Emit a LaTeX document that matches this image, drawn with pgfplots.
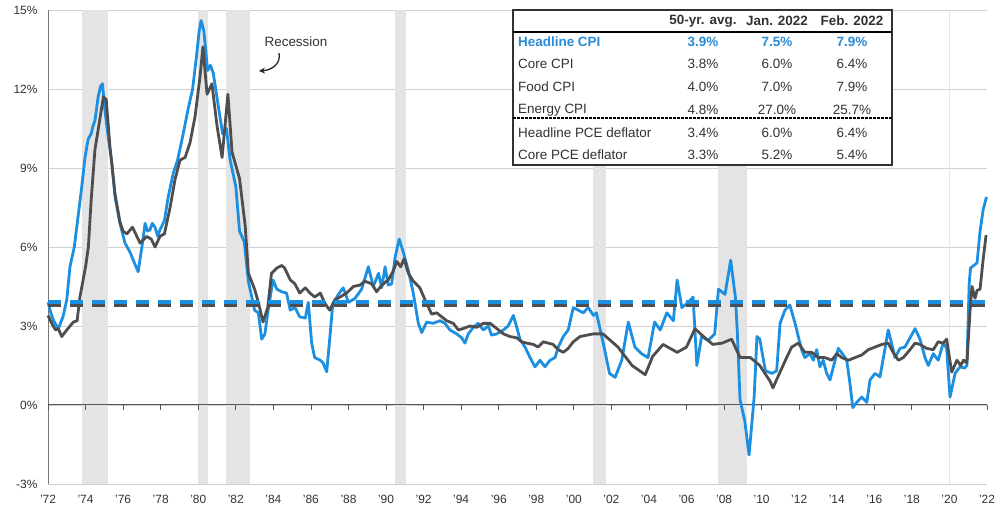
\documentclass[border=0pt]{standalone}
\usepackage{fontspec}
\setmainfont{Liberation Sans}
\usepackage{pgfplots}
\pgfplotsset{compat=1.18}
\usetikzlibrary{arrows.meta}
\definecolor{cpiblue}{RGB}{28,143,224}
\definecolor{coregray}{RGB}{78,78,80}
\definecolor{recess}{RGB}{228,228,228}
\definecolor{gridgray}{RGB}{208,208,208}
\definecolor{axisgray}{RGB}{120,120,120}
\definecolor{zerogray}{RGB}{85,85,85}
\definecolor{txtgray}{RGB}{50,50,50}
\definecolor{hdrblue}{RGB}{38,140,215}
\begin{document}
\begin{tikzpicture}
\begin{axis}[
  scale only axis, width=939bp, height=474bp,
  xmin=0, xmax=50, ymin=-3, ymax=15,
  axis line style={draw=none},
  tick style={draw=none},
  major tick length=0.1pt,
  ytick={-3,0,3,6,9,12,15},
  yticklabels={-3\%,0\%,3\%,6\%,9\%,12\%,15\%},
  xtick={0,2,...,50},
  xticklabels={'72,'74,'76,'78,'80,'82,'84,'86,'88,'90,'92,'94,'96,'98,'00,'02,'04,'06,'08,'10,'12,'14,'16,'18,'20,'22},
  ymajorgrids, grid style={draw=gridgray, line width=0.8bp},
  tick label style={font=\fontsize{12}{14}\selectfont, text=txtgray},
  yticklabel style={xshift=-7bp},
  xticklabel style={yshift=-8bp},
  clip=false,
]
% recessions
\fill[recess] (axis cs:1.83,-3) rectangle (axis cs:3.17,15);
\fill[recess] (axis cs:8.0,-3) rectangle (axis cs:8.5,15);
\fill[recess] (axis cs:9.5,-3) rectangle (axis cs:10.75,15);
\fill[recess] (axis cs:18.5,-3) rectangle (axis cs:19.08,15);
\fill[recess] (axis cs:29.0,-3) rectangle (axis cs:29.7,15);
\fill[recess] (axis cs:35.7,-3) rectangle (axis cs:37.2,15);
\fill[recess] (axis cs:47.95,-3) rectangle (axis cs:48.05,15);
% axes
\draw[axisgray, line width=0.9bp] (axis cs:0,-3) -- (axis cs:0,15);
\draw[zerogray, line width=1bp] (axis cs:0,0) -- (axis cs:50,0);
\pgfplotsinvokeforeach{0,2,...,50}{\draw[zerogray, line width=0.8bp] (axis cs:#1,0) -- (axis cs:#1,-0.19);}
% Headline CPI
\addplot[cpiblue, line width=2.8bp, line join=round, mark=none] table[x expr=\thisrowno{0}-1972, y index=1] {
1972.00 3.9
1972.15 3.5
1972.30 3.2
1972.55 2.9
1972.80 3.35
1973.00 4.0
1973.17 5.25
1973.40 6.0
1973.60 7.15
1973.80 8.3
1973.97 9.4
1974.14 10.1
1974.30 10.3
1974.40 10.6
1974.50 10.8
1974.67 11.7
1974.80 12.1
1974.90 12.2
1975.03 11.2
1975.20 10.2
1975.40 9.2
1975.57 7.9
1975.70 7.4
1975.83 6.9
1976.10 6.15
1976.37 5.8
1976.60 5.4
1976.80 5.06
1977.00 6.0
1977.17 6.9
1977.30 6.6
1977.43 6.65
1977.55 6.9
1977.70 6.75
1977.85 6.4
1977.96 6.65
1978.20 7.0
1978.40 7.9
1978.67 8.8
1978.90 9.3
1979.20 10.3
1979.45 11.2
1979.70 12.0
1979.90 13.2
1980.05 14.2
1980.15 14.6
1980.30 14.2
1980.50 12.7
1980.65 12.9
1980.80 12.6
1981.10 11.2
1981.30 10.3
1981.50 10.5
1981.70 9.3
1982.00 8.3
1982.20 6.6
1982.45 6.2
1982.67 4.7
1983.00 3.6
1983.20 3.5
1983.38 2.5
1983.55 2.7
1983.70 3.5
1983.98 4.75
1984.18 4.4
1984.45 4.3
1984.70 4.25
1984.90 3.6
1985.15 3.7
1985.40 3.35
1985.70 3.3
1985.86 3.9
1986.04 2.35
1986.20 1.8
1986.50 1.7
1986.65 1.6
1986.84 1.26
1987.00 2.5
1987.16 3.8
1987.46 4.2
1987.72 4.45
1988.00 3.9
1988.35 4.05
1988.70 4.4
1989.06 5.25
1989.32 4.5
1989.60 5.0
1989.77 4.45
1989.95 5.25
1990.12 4.55
1990.30 4.6
1990.48 5.6
1990.70 6.3
1990.92 5.8
1991.19 5.1
1991.45 4.25
1991.72 3.1
1991.90 2.75
1992.16 3.15
1992.50 3.1
1992.87 3.2
1993.14 3.1
1993.40 2.85
1993.76 2.7
1994.03 2.55
1994.20 2.35
1994.38 2.7
1994.65 2.95
1994.90 3.1
1995.18 2.85
1995.45 3.0
1995.62 2.65
1995.90 2.7
1996.25 2.85
1996.50 3.0
1996.78 3.4
1996.96 2.95
1997.13 2.5
1997.40 2.2
1997.67 1.8
1997.93 1.45
1998.20 1.7
1998.46 1.45
1998.73 1.7
1999.00 1.8
1999.17 2.2
1999.44 2.6
1999.70 2.85
1999.97 3.7
2000.24 3.6
2000.50 3.5
2000.77 3.7
2001.04 3.4
2001.20 3.5
2001.55 2.4
2001.90 1.2
2002.20 1.05
2002.55 1.7
2002.90 3.15
2003.25 2.2
2003.60 1.95
2003.95 1.8
2004.30 3.15
2004.60 2.85
2004.95 3.5
2005.30 3.2
2005.50 4.75
2005.75 3.7
2006.10 3.9
2006.35 4.1
2006.55 1.5
2006.80 2.6
2007.15 2.45
2007.50 2.7
2007.70 4.4
2008.05 4.2
2008.35 5.5
2008.60 4.1
2008.70 2.85
2008.85 0.2
2009.10 -0.6
2009.33 -1.9
2009.60 0.3
2009.75 2.6
2009.90 2.5
2010.20 1.3
2010.55 1.2
2010.80 1.3
2010.98 3.1
2011.24 3.6
2011.50 3.8
2011.78 3.1
2011.95 2.6
2012.13 2.1
2012.30 1.8
2012.57 1.95
2012.75 1.7
2012.93 2.1
2013.10 1.45
2013.28 1.7
2013.46 1.2
2013.64 0.95
2013.82 1.45
2014.08 2.15
2014.35 1.9
2014.53 1.7
2014.70 0.83
2014.85 -0.1
2015.06 0.1
2015.33 0.3
2015.60 0.1
2015.77 0.95
2016.04 1.2
2016.30 1.07
2016.52 1.95
2016.74 2.85
2016.92 2.35
2017.10 1.8
2017.37 2.15
2017.63 2.2
2017.90 2.55
2018.17 2.9
2018.43 2.5
2018.70 1.8
2018.87 1.5
2019.14 1.95
2019.40 1.7
2019.67 2.35
2019.85 2.15
2020.03 0.3
2020.30 1.2
2020.56 1.45
2020.80 1.4
2020.93 1.5
2021.05 4.6
2021.12 5.2
2021.30 5.3
2021.47 5.4
2021.63 6.6
2021.79 7.4
2021.97 7.9
};
% Core CPI
\addplot[coregray, line width=2.8bp, line join=round, mark=none] table[x expr=\thisrowno{0}-1972, y index=1] {
1972.00 3.4
1972.20 3.1
1972.40 2.85
1972.55 2.9
1972.73 2.6
1973.00 2.85
1973.35 3.15
1973.55 3.2
1973.70 4.1
1974.00 5.25
1974.15 6.0
1974.30 7.8
1974.50 9.7
1974.67 10.45
1974.95 11.7
1975.10 11.6
1975.30 9.8
1975.57 8.0
1975.83 6.95
1976.00 6.6
1976.20 6.5
1976.50 6.75
1976.90 6.15
1977.25 6.4
1977.50 6.3
1977.70 6.0
1977.96 6.4
1978.20 6.5
1978.50 7.5
1978.76 8.55
1979.03 9.3
1979.30 9.4
1979.56 9.95
1979.83 10.95
1980.10 12.5
1980.25 13.6
1980.47 11.8
1980.73 12.2
1981.00 10.6
1981.27 9.4
1981.58 11.8
1981.80 9.6
1982.20 8.6
1982.50 6.8
1982.67 5.0
1983.00 4.4
1983.20 3.9
1983.45 3.15
1983.70 3.7
1983.90 5.0
1984.18 5.2
1984.45 5.3
1984.60 5.2
1984.90 4.75
1985.15 4.6
1985.40 4.25
1985.70 4.45
1985.95 4.25
1986.20 4.1
1986.50 4.25
1986.75 3.85
1987.00 3.6
1987.28 4.0
1987.55 4.1
1987.90 4.25
1988.26 4.5
1988.60 4.55
1988.88 4.7
1989.24 4.6
1989.50 4.3
1989.77 4.55
1990.12 4.75
1990.39 5.1
1990.57 5.45
1990.78 5.25
1990.96 5.55
1991.19 5.0
1991.45 4.7
1991.80 4.45
1992.07 4.0
1992.43 3.45
1992.70 3.5
1992.96 3.35
1993.23 3.2
1993.58 3.1
1993.85 2.85
1994.10 2.9
1994.47 3.0
1994.83 2.95
1995.18 3.1
1995.54 3.1
1995.90 2.9
1996.25 2.7
1996.60 2.6
1996.96 2.55
1997.22 2.4
1997.49 2.35
1997.84 2.3
1998.10 2.2
1998.37 2.4
1998.64 2.35
1998.90 2.3
1999.17 2.1
1999.44 2.0
1999.70 2.15
1999.97 2.4
2000.33 2.6
2000.68 2.65
2001.04 2.7
2001.55 2.7
2002.35 2.2
2003.10 1.5
2003.80 1.15
2004.20 1.85
2004.75 2.3
2005.50 2.0
2006.00 2.2
2006.45 2.9
2006.90 2.6
2007.40 2.3
2007.90 2.35
2008.40 2.5
2008.85 1.8
2009.40 1.8
2009.90 1.5
2010.45 0.9
2010.60 0.65
2010.98 1.25
2011.33 1.8
2011.60 2.2
2011.95 2.35
2012.30 2.0
2012.66 2.0
2013.02 1.8
2013.37 1.8
2013.73 1.7
2014.00 1.95
2014.26 1.8
2014.62 1.7
2014.97 1.8
2015.33 1.9
2015.68 2.1
2016.04 2.2
2016.40 2.3
2016.74 2.35
2017.00 2.0
2017.28 1.7
2017.54 1.8
2017.90 2.1
2018.17 2.35
2018.43 2.3
2018.79 2.15
2019.14 2.1
2019.40 2.4
2019.67 2.35
2019.85 2.5
2020.12 1.25
2020.40 1.7
2020.60 1.5
2020.75 1.7
2020.93 1.6
2021.09 3.5
2021.20 4.5
2021.36 4.05
2021.47 4.35
2021.63 4.4
2021.79 5.5
2021.95 6.45
};
% 50-yr averages
\addplot[coregray, line width=4.2bp, dash pattern=on 13bp off 9bp, mark=none] coordinates {(0,3.8) (50,3.8)};
\addplot[cpiblue, line width=4bp, dash pattern=on 13bp off 9bp, mark=none] coordinates {(0,3.9) (50,3.9)};
\end{axis}
\begin{scope}[x=1bp, y=-1bp, shift={(-48bp,484bp)}]
% recession annotation
\node[font=\fontsize{13.5}{15}\selectfont, text=txtgray] at (296,42) {Recession};
\draw[-{Stealth[length=6bp,width=6bp]}, line width=1.3bp, black!85] (279,53) .. controls (281,63) and (273,70) .. (259,71);
% table
\filldraw[fill=white, draw=txtgray, line width=1.2bp] (513,10) rectangle (892,165);
\draw[black, line width=1.6bp] (513,32) -- (892,32);
\draw[black, line width=1.4bp, dash pattern=on 2.5bp off 1.5bp] (513,118) -- (892,118);
\begin{scope}[every node/.style={font=\fontsize{13.5}{15}\selectfont, text=txtgray, inner sep=0pt}]
\node[font=\fontsize{13.5}{15}\selectfont\bfseries] at (703,21) {50-yr. avg.};
\node[font=\fontsize{13.5}{15}\selectfont\bfseries] at (777,21) {Jan. 2022};
\node[font=\fontsize{13.5}{15}\selectfont\bfseries] at (852,21) {Feb. 2022};
\node[anchor=west, text=hdrblue, font=\fontsize{13.5}{15}\selectfont\bfseries] at (518,42) {Headline CPI};
\node[text=hdrblue, font=\fontsize{13.5}{15}\selectfont\bfseries] at (703,42) {3.9\%};
\node[text=hdrblue, font=\fontsize{13.5}{15}\selectfont\bfseries] at (777,42) {7.5\%};
\node[text=hdrblue, font=\fontsize{13.5}{15}\selectfont\bfseries] at (852,42) {7.9\%};
\node[anchor=west] at (518,64) {Core CPI};
\node at (703,64) {3.8\%}; \node at (777,64) {6.0\%}; \node at (852,64) {6.4\%};
\node[anchor=west] at (518,87) {Food CPI};
\node at (703,87) {4.0\%}; \node at (777,87) {7.0\%}; \node at (852,87) {7.9\%};
\node[anchor=west] at (518,110) {Energy CPI};
\node at (703,110) {4.8\%}; \node at (777,110) {27.0\%}; \node at (852,110) {25.7\%};
\node[anchor=west] at (518,133) {Headline PCE deflator};
\node at (703,133) {3.4\%}; \node at (777,133) {6.0\%}; \node at (852,133) {6.4\%};
\node[anchor=west] at (518,155) {Core PCE deflator};
\node at (703,155) {3.3\%}; \node at (777,155) {5.2\%}; \node at (852,155) {5.4\%};
\end{scope}
\pgfresetboundingbox
\path[use as bounding box] (0,0) rectangle (1006,510);
\end{scope}
\end{tikzpicture}
\end{document}
